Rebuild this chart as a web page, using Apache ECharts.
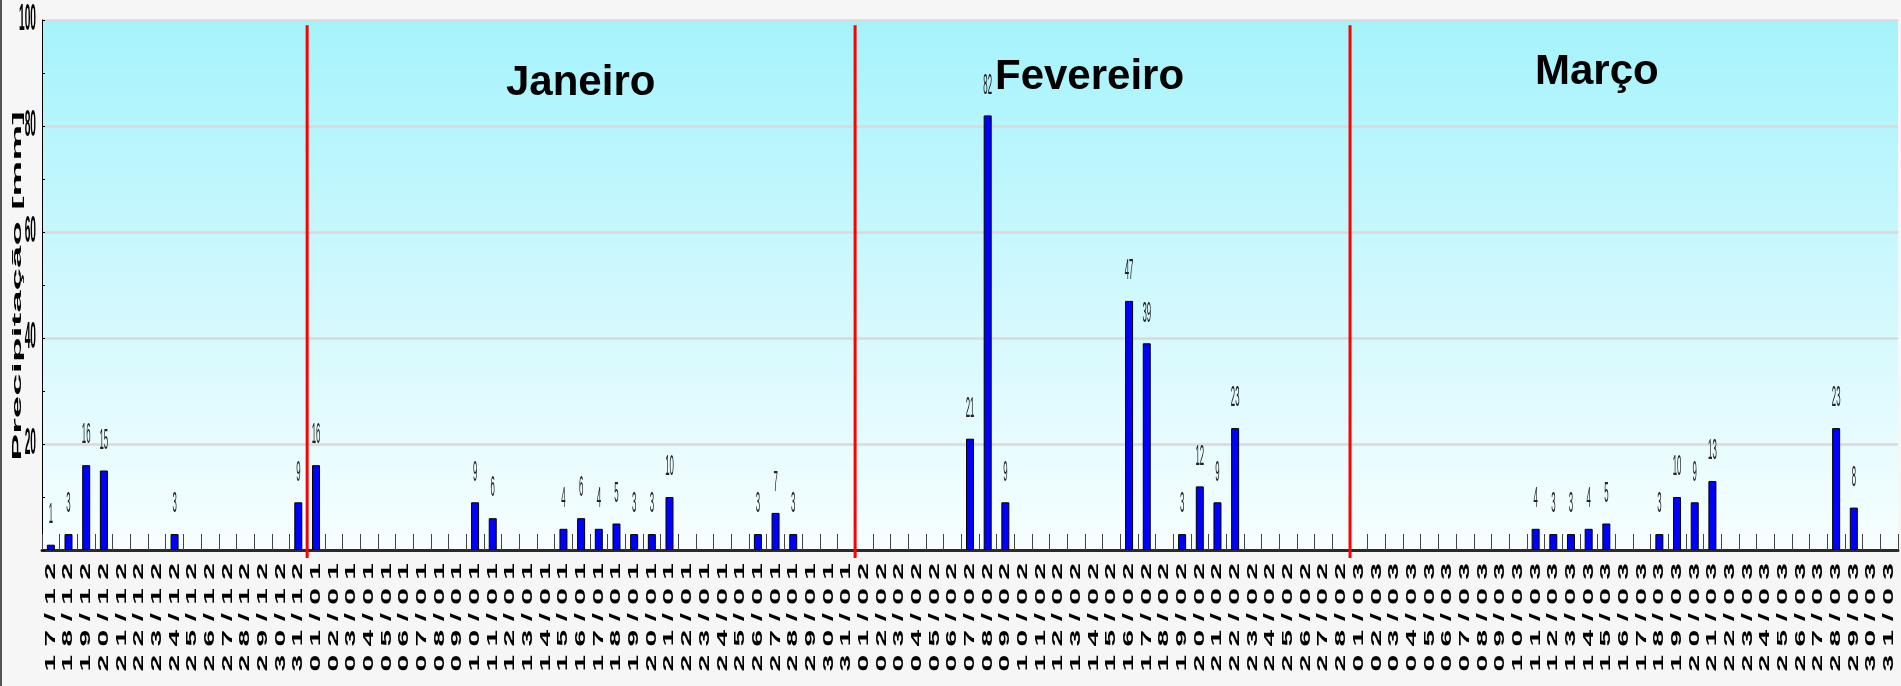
<!DOCTYPE html>
<html>
<head>
<meta charset="utf-8">
<script src="https://cdn.jsdelivr.net/npm/echarts@6/dist/echarts.min.js"></script>
<style>
html,body{margin:0;padding:0;background:#f6f6f6;}
#c{width:1901px;height:686px;}
</style>
</head>
<body>
<div id="c"></div>
<script>
// ---- categories (days) ----
const decDays = ['17/12','18/12','19/12','20/12','21/12','22/12','23/12','24/12','25/12','26/12','27/12','28/12','29/12','30/12','31/12'];
const janDays = ['01/01','02/01','03/01','04/01','05/01','06/01','07/01','08/01','09/01','10/01','11/01','12/01','13/01','14/01','15/01','16/01','17/01','18/01','19/01','20/01','21/01','22/01','23/01','24/01','25/01','26/01','27/01','28/01','29/01','30/01','31/01'];
const febDays = ['01/02','02/02','03/02','04/02','05/02','06/02','07/02','08/02','09/02','10/02','11/02','12/02','13/02','14/02','15/02','16/02','17/02','18/02','19/02','20/02','21/02','22/02','23/02','24/02','25/02','26/02','27/02','28/02'];
const marDays = ['01/03','02/03','03/03','04/03','05/03','06/03','07/03','08/03','09/03','10/03','11/03','12/03','13/03','14/03','15/03','16/03','17/03','18/03','19/03','20/03','21/03','22/03','23/03','24/03','25/03','26/03','27/03','28/03','29/03','30/03','31/03'];

// ---- precipitation values [mm] ----
const decValues = [1,3,16,15,0,0,0,3,0,0,0,0,0,0,9];
const janValues = [16,0,0,0,0,0,0,0,0,9,6,0,0,0,4,6,4,5,3,3,10,0,0,0,0,3,7,3,0,0,0];
const febValues = [0,0,0,0,0,0,21,82,9,0,0,0,0,0,0,47,39,0,3,12,9,23,0,0,0,0,0,0];
const marValues = [0,0,0,0,0,0,0,0,0,0,4,3,3,4,5,0,0,3,10,9,13,0,0,0,0,0,0,23,8,0,0];

// ---- axis / annotation texts ----
const yTickLabels = [20,40,60,80,100];
const monthNames = ['Janeiro','Fevereiro','Março'];
const monthStartDays = ['01/01','01/02','01/03'];
const yAxisTitle = 'Precipitação [mm]';

const categories = decDays.concat(janDays, febDays, marDays);
const precipitation = decValues.concat(janValues, febValues, marValues);

const FONT = '"Liberation Sans", Arial, Helvetica, sans-serif';
const chart = echarts.init(document.getElementById('c'), null, {renderer: 'canvas'});

function spaced(s) { return s.split('').join(' '); }

const option = {
  animation: false,
  backgroundColor: '#f6f6f6',
  grid: {
    left: 42, right: 3, top: 20, bottom: 136,
    show: true,
    borderWidth: 0,
    backgroundColor: new echarts.graphic.LinearGradient(0, 0, 0, 1, [
      {offset: 0, color: '#a5f3fc'},
      {offset: 1, color: '#f8feff'}
    ]),
    outerBoundsMode: 'none'
  },
  xAxis: [{
    type: 'category',
    data: categories,
    boundaryGap: true,
    axisLine: {show: true, lineStyle: {color: '#2a2a2a', width: 3}},
    axisTick: {show: true, inside: true, length: 16, interval: 0, lineStyle: {color: '#444', width: 1}},
    axisLabel: {show: false},
    splitLine: {show: false}
  }],
  yAxis: [{
    type: 'value',
    min: 0, max: 100, interval: 20,
    axisLine: {show: true, lineStyle: {color: '#000', width: 1}},
    axisTick: {show: true, inside: true, length: 3, lineStyle: {color: '#000'}},
    minorTick: {show: true, splitNumber: 2, length: 3, lineStyle: {color: '#000'}},
    splitLine: {show: true, lineStyle: {color: '#d9d9d9', width: 2.5}},
    axisLabel: {show: false}
  }],
  graphic: [
    {type: 'rect', shape: {x: 0, y: 0, width: 2, height: 686}, style: {fill: '#555'}},
    {type: 'text', x: 17.5, y: 286, rotation: Math.PI / 2, scaleX: 3.1, scaleY: 1.05,
      style: {text: yAxisTitle, font: 'bold 13px ' + FONT, fill: '#000', align: 'center', verticalAlign: 'middle'}},
    {type: 'text', x: 506, y: 83.5, style: {text: monthNames[0], font: 'bold 42px ' + FONT, fill: '#000', align: 'left', verticalAlign: 'middle'}, z: 100},
    {type: 'text', x: 995, y: 77, style: {text: monthNames[1], font: 'bold 42px ' + FONT, fill: '#000', align: 'left', verticalAlign: 'middle'}, z: 100},
    {type: 'text', x: 1535, y: 72, style: {text: monthNames[2], font: 'bold 42px ' + FONT, fill: '#000', align: 'left', verticalAlign: 'middle'}, z: 100}
  ],
  series: [
    {
      name: 'Precipitação',
      type: 'bar',
      data: precipitation.map(v => v > 0 ? v : '-'),
      barWidth: 8,
      itemStyle: {color: '#0000ff', borderColor: '#000', borderWidth: 1},
      z: 3
    },
    {
      // value labels above bars
      type: 'custom',
      silent: true,
      clip: false,
      data: precipitation.map((v, i) => [i, v]).filter(d => d[1] > 0),
      renderItem: function (params, api) {
        const p = api.coord([api.value(0), api.value(1)]);
        return {
          type: 'text',
          x: p[0], y: p[1] - 15,
          scaleX: 0.65, scaleY: 2.5,
          style: {text: String(api.value(1)), font: '12px ' + FONT, fill: '#222', align: 'center', verticalAlign: 'bottom'}
        };
      },
      z: 4
    },
    {
      // x-axis day labels (rotated, stretched)
      type: 'custom',
      silent: true,
      clip: false,
      data: categories.map((c, i) => [i, 0]),
      renderItem: function (params, api) {
        const idx = api.value(0);
        const p = api.coord([idx, 0]);
        return {
          type: 'text',
          x: p[0], y: p[1] + 13,
          rotation: Math.PI / 2,
          scaleX: 2.5, scaleY: 1.2,
          style: {text: spaced(categories[idx]), font: 'bold 12px ' + FONT, fill: '#000', align: 'right', verticalAlign: 'middle'}
        };
      },
      z: 4
    },
    {
      // y-axis tick labels (tall narrow)
      type: 'custom',
      silent: true,
      clip: false,
      data: yTickLabels.map(v => [0, v]),
      renderItem: function (params, api) {
        const p = api.coord([0, api.value(1)]);
        const bw = api.size([1, 0])[0];
        return {
          type: 'text',
          x: p[0] - bw / 2 - 6, y: p[1],
          scaleX: 0.85, scaleY: 3.0,
          style: {text: String(api.value(1)), font: 'bold 12px ' + FONT, fill: '#000', align: 'right', verticalAlign: 'middle'}
        };
      },
      z: 4
    },
    {
      // red month dividers at category boundaries
      type: 'custom',
      silent: true,
      clip: false,
      data: monthStartDays.map(d => [categories.indexOf(d), 99]),
      renderItem: function (params, api) {
        const idx = api.value(0);
        const top = api.coord([idx, api.value(1)]);
        const base = api.coord([idx, 0]);
        const bw = api.size([1, 0])[0];
        const x = base[0] - bw / 2;
        return {
          type: 'line',
          shape: {x1: x, y1: top[1], x2: x, y2: base[1] + 8},
          style: {stroke: '#ff0000', lineWidth: 3}
        };
      },
      z: 5
    }
  ]
};
chart.setOption(option);
</script>
</body>
</html>
